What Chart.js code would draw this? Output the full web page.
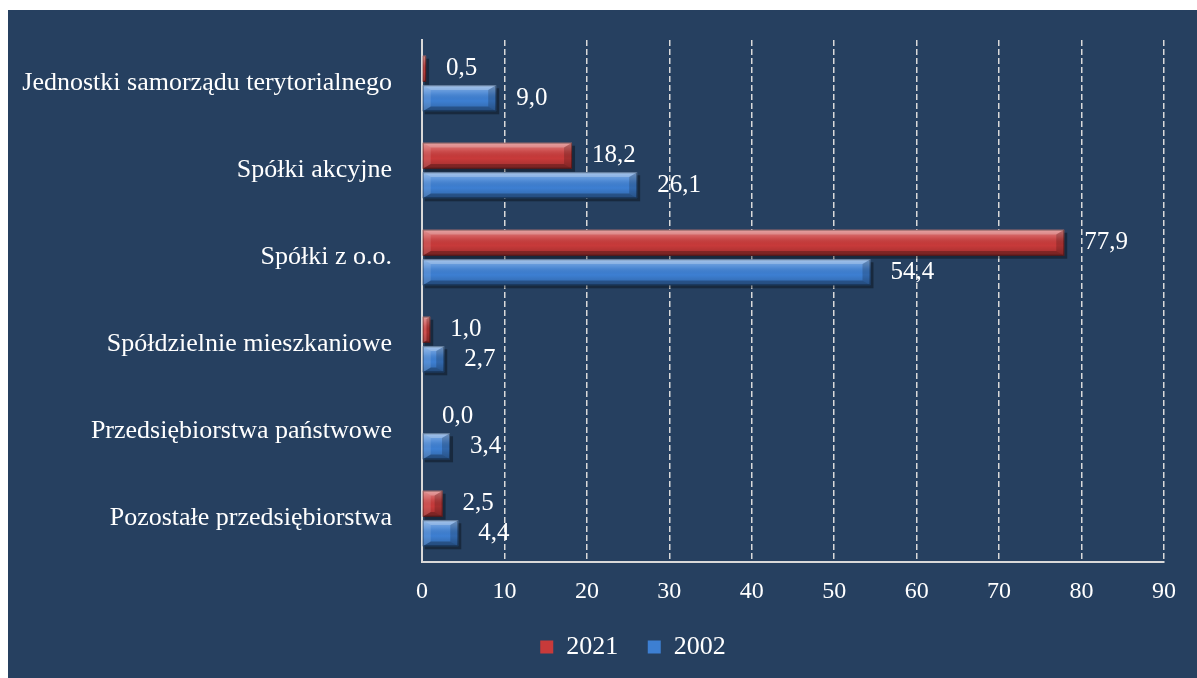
<!DOCTYPE html>
<html>
<head>
<meta charset="utf-8">
<script src="https://cdn.jsdelivr.net/npm/chart.js@4/dist/chart.umd.min.js"></script>
<style>
  html, body { margin: 0; padding: 0; background: #ffffff; }
  #wrap { position: absolute; left: 8px; top: 10px; width: 1189px; height: 668px; background: #264060; }
  canvas { display: block; }
</style>
</head>
<body>
<div id="wrap"><canvas id="c" width="1189" height="668"></canvas></div>
<script>
const categories = [
  "Jednostki samorządu terytorialnego",
  "Spółki akcyjne",
  "Spółki z o.o.",
  "Spółdzielnie mieszkaniowe",
  "Przedsiębiorstwa państwowe",
  "Pozostałe przedsiębiorstwa"
];
const seriesNames = ["2021", "2002"];
const values2021 = [0.5, 18.2, 77.9, 1.0, 0.0, 2.5];
const values2002 = [9.0, 26.1, 54.4, 2.7, 3.4, 4.4];
const xTicks = [0, 10, 20, 30, 40, 50, 60, 70, 80, 90];

const FONT = "'Liberation Serif', 'Times New Roman', serif";

const bevelPlugin = {
  id: 'bevel',
  afterLayout(chart) {
    if (chart.legend) { chart.legend.left += 42; chart.legend.right += 42; }
  },
  beforeDatasetsDraw(chart) {
    const ctx = chart.ctx;
    ctx.save();
    chart.data.datasets.forEach((ds, di) => {
      const meta = chart.getDatasetMeta(di);
      meta.data.forEach(el => {
        const p = el.getProps(['x', 'y', 'base', 'height'], true);
        const w = p.x - p.base;
        if (w <= 0.5) return;
        ctx.fillStyle = 'rgba(0,0,0,0.35)';
        ctx.fillRect(p.base + 2, p.y - p.height / 2 + 3, w + 1, p.height);
      });
    });
    ctx.restore();
  },
  afterDatasetsDraw(chart) {
    const ctx = chart.ctx;
    ctx.save();
    chart.data.datasets.forEach((ds, di) => {
      const meta = chart.getDatasetMeta(di);
      meta.data.forEach((el, i) => {
        const p = el.getProps(['x', 'y', 'base', 'height'], true);
        const xs = p.base, xe = p.x;
        const yt = p.y - p.height / 2, yb = p.y + p.height / 2;
        const w = xe - xs;
        if (w > 0.5) {
          const b = Math.min(8, w / 2, p.height / 2);
          const g = ctx.createLinearGradient(0, yt, 0, yb);
          g.addColorStop(0, 'rgba(255,255,255,0.40)');
          g.addColorStop(0.3, 'rgba(255,255,255,0.12)');
          g.addColorStop(0.6, 'rgba(0,0,0,0.0)');
          g.addColorStop(1, 'rgba(0,0,0,0.22)');
          ctx.fillStyle = g;
          ctx.fillRect(xs, yt, w, p.height);
          ctx.fillStyle = 'rgba(255,255,255,0.22)';
          ctx.beginPath();
          ctx.moveTo(xs, yt); ctx.lineTo(xe, yt); ctx.lineTo(xe - b, yt + b * 0.6); ctx.lineTo(xs + b, yt + b * 0.6); ctx.closePath(); ctx.fill();
          ctx.fillStyle = 'rgba(0,0,0,0.25)';
          ctx.beginPath();
          ctx.moveTo(xs + b, yb - b * 0.6); ctx.lineTo(xe - b, yb - b * 0.6); ctx.lineTo(xe, yb); ctx.lineTo(xs, yb); ctx.closePath(); ctx.fill();
          ctx.fillStyle = 'rgba(0,0,0,0.18)';
          ctx.beginPath();
          ctx.moveTo(xe, yt); ctx.lineTo(xe, yb); ctx.lineTo(xe - b, yb - b * 0.6); ctx.lineTo(xe - b, yt + b * 0.6); ctx.closePath(); ctx.fill();
          ctx.fillStyle = 'rgba(255,255,255,0.12)';
          ctx.beginPath();
          ctx.moveTo(xs, yt); ctx.lineTo(xs + b, yt + b * 0.6); ctx.lineTo(xs + b, yb - b * 0.6); ctx.lineTo(xs, yb); ctx.closePath(); ctx.fill();
          ctx.strokeStyle = 'rgba(0,0,0,0.35)';
          ctx.lineWidth = 1;
          ctx.strokeRect(xs + 0.5, yt + 0.5, w - 1, p.height - 1);
        }
        const v = ds.data[i];
        ctx.fillStyle = '#ffffff';
        ctx.font = '25px ' + FONT;
        ctx.textAlign = 'left';
        ctx.textBaseline = 'middle';
        ctx.fillText(v.toFixed(1).replace('.', ','), xe + 20, p.y);
      });
    });
    ctx.restore();
  }
};

new Chart(document.getElementById('c'), {
  type: 'bar',
  data: {
    labels: categories,
    datasets: [
      { label: seriesNames[0], data: values2021, backgroundColor: '#c83a3a', borderWidth: 0,
        categoryPercentage: 0.68, barPercentage: 0.88 },
      { label: seriesNames[1], data: values2002, backgroundColor: '#3d7fd2', borderWidth: 0,
        categoryPercentage: 0.68, barPercentage: 0.88 }
    ]
  },
  options: {
    indexAxis: 'y',
    responsive: false,
    animation: false,
    layout: { padding: { left: 10, right: 33, top: 30, bottom: 8 } },
    plugins: {
      legend: {
        position: 'bottom',
        labels: {
          color: '#ffffff',
          font: { family: FONT, size: 26 },
          boxWidth: 13, boxHeight: 13,
          padding: 10,
          generateLabels(chart) {
            const items = Chart.defaults.plugins.legend.labels.generateLabels(chart);
            items.forEach((it, k) => { if (k < items.length - 1) it.text = it.text + '   '; });
            return items;
          }
        }
      },
      tooltip: { enabled: false }
    },
    scales: {
      x: {
        min: 0, max: 90,
        afterBuildTicks(scale) { scale.ticks = xTicks.map(v => ({ value: v })); },
        afterFit(scale) { scale.height = 62; scale.paddingLeft = 0; scale.paddingRight = 0; },
        ticks: { color: '#ffffff', font: { family: FONT, size: 24 }, padding: 15, maxRotation: 0 },
        grid: {
          color: ctx => ctx.tick && ctx.tick.value === 0 ? 'rgba(0,0,0,0)' : '#d9d9d9',
          lineWidth: 1.5, drawTicks: false
        },
        border: { display: true, color: '#d9d9d9', width: 2, dash: [6, 3] }
      },
      y: {
        afterFit(scale) { scale.width = 404; scale.paddingTop = 0; scale.paddingBottom = 0; },
        ticks: { color: '#ffffff', font: { family: FONT, size: 26 }, padding: 30 },
        grid: { display: false, drawTicks: false },
        border: { display: true, color: '#d9d9d9', width: 2 }
      }
    }
  },
  plugins: [bevelPlugin]
});
</script>
</body>
</html>
